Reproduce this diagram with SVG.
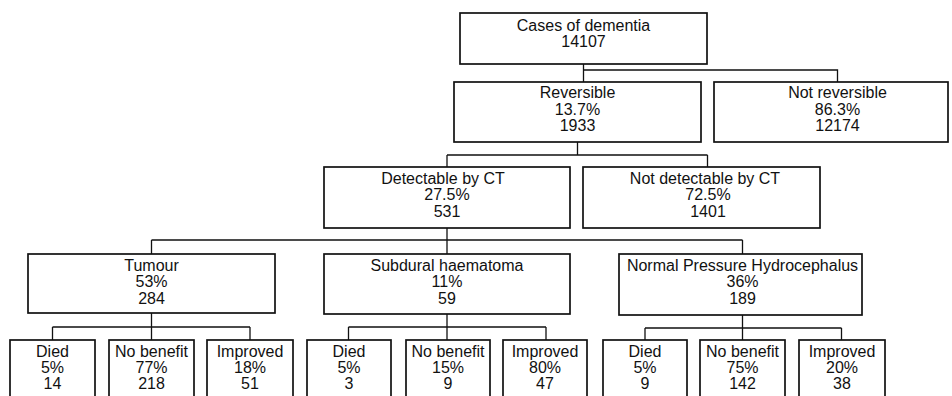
<svg xmlns="http://www.w3.org/2000/svg" width="952" height="396" viewBox="0 0 952 396">
<style>
.box{fill:#fff;stroke:#111;stroke-width:1.7}
.t{font-family:"Liberation Sans",Arial,sans-serif;font-size:16px;fill:#111;text-anchor:middle}
.con{fill:none;stroke:#111;stroke-width:1.3}
</style>
<rect width="952" height="396" fill="#fff"/>
<g id="connectors" class="con">
<path d="M583.5 64V82M583.5 70H837.5V82"/>
<path d="M577.5 142V155M447 155H707.5M447 155V167M707.5 155V167"/>
<path d="M447 228V254M151.5 240H742.5M151.5 240V254M742.5 240V254"/>
<path d="M151.5 313V327M52.5 327H250M52.5 327V340M151.5 327V340M250 327V340"/>
<path d="M447 314V327M348.5 327H546M348.5 327V340M447 327V340M546 327V340"/>
<path d="M742.5 315V328M645 328H841.5M645 328V340M742.5 328V340M841.5 328V340"/>
</g>
<g id="root"><rect class="box" x="460" y="13" width="247" height="51"/>
<text class="t" x="583.5" y="30.7">Cases of dementia</text><text class="t" x="583.5" y="47.3">14107</text></g>
<g id="reversible"><rect class="box" x="454" y="82" width="247" height="60"/>
<text class="t" x="577.5" y="97.7">Reversible</text><text class="t" x="577.5" y="114.5">13.7%</text><text class="t" x="577.5" y="131.2">1933</text></g>
<g id="notreversible"><rect class="box" x="714" y="82" width="234" height="60"/>
<text class="t" x="837.5" y="97.7">Not reversible</text><text class="t" x="837.5" y="114.5">86.3%</text><text class="t" x="837.5" y="131.2">12174</text></g>
<g id="detectable"><rect class="box" x="324" y="167" width="246" height="61"/>
<text class="t" x="443" y="183.5">Detectable by CT</text><text class="t" x="447" y="200.2">27.5%</text><text class="t" x="447" y="216.9">531</text></g>
<g id="notdetectable"><rect class="box" x="583" y="167" width="237" height="61"/>
<text class="t" x="705" y="183.5">Not detectable by CT</text><text class="t" x="708" y="200.2">72.5%</text><text class="t" x="708" y="216.9">1401</text></g>
<g id="tumour"><rect class="box" x="28" y="254" width="247" height="59"/>
<text class="t" x="151.5" y="270.7">Tumour</text><text class="t" x="151.5" y="287.2">53%</text><text class="t" x="151.5" y="303.7">284</text></g>
<g id="subdural"><rect class="box" x="324" y="254" width="246" height="60"/>
<text class="t" x="447" y="270.7">Subdural haematoma</text><text class="t" x="447" y="287.2">11%</text><text class="t" x="447" y="303.7">59</text></g>
<g id="nph"><rect class="box" x="619" y="254" width="243" height="61"/>
<text class="t" x="742.5" y="270.7">Normal Pressure Hydrocephalus</text><text class="t" x="742.5" y="287.2">36%</text><text class="t" x="742.5" y="303.7">189</text></g>
<g id="t-died"><rect class="box" x="10" y="340" width="85" height="70"/>
<text class="t" x="52.5" y="356.7">Died</text><text class="t" x="52.5" y="372.7">5%</text><text class="t" x="52.5" y="388.5">14</text></g>
<g id="t-nobenefit"><rect class="box" x="109" y="340" width="85" height="70"/>
<text class="t" x="151.5" y="356.7">No benefit</text><text class="t" x="151.5" y="372.7">77%</text><text class="t" x="151.5" y="388.5">218</text></g>
<g id="t-improved"><rect class="box" x="207" y="340" width="86" height="70"/>
<text class="t" x="250" y="356.7">Improved</text><text class="t" x="250" y="372.7">18%</text><text class="t" x="250" y="388.5">51</text></g>
<g id="s-died"><rect class="box" x="307" y="340" width="84" height="70"/>
<text class="t" x="349" y="356.7">Died</text><text class="t" x="349" y="372.7">5%</text><text class="t" x="349" y="388.5">3</text></g>
<g id="s-nobenefit"><rect class="box" x="406" y="340" width="84" height="70"/>
<text class="t" x="448" y="356.7">No benefit</text><text class="t" x="448" y="372.7">15%</text><text class="t" x="448" y="388.5">9</text></g>
<g id="s-improved"><rect class="box" x="503" y="340" width="84" height="70"/>
<text class="t" x="545" y="356.7">Improved</text><text class="t" x="545" y="372.7">80%</text><text class="t" x="545" y="388.5">47</text></g>
<g id="n-died"><rect class="box" x="603" y="340" width="84" height="70"/>
<text class="t" x="645" y="356.7">Died</text><text class="t" x="645" y="372.7">5%</text><text class="t" x="645" y="388.5">9</text></g>
<g id="n-nobenefit"><rect class="box" x="700" y="340" width="85" height="70"/>
<text class="t" x="742.5" y="356.7">No benefit</text><text class="t" x="742.5" y="372.7">75%</text><text class="t" x="742.5" y="388.5">142</text></g>
<g id="n-improved"><rect class="box" x="799" y="340" width="86" height="70"/>
<text class="t" x="842" y="356.7">Improved</text><text class="t" x="842" y="372.7">20%</text><text class="t" x="842" y="388.5">38</text></g>
</svg>
